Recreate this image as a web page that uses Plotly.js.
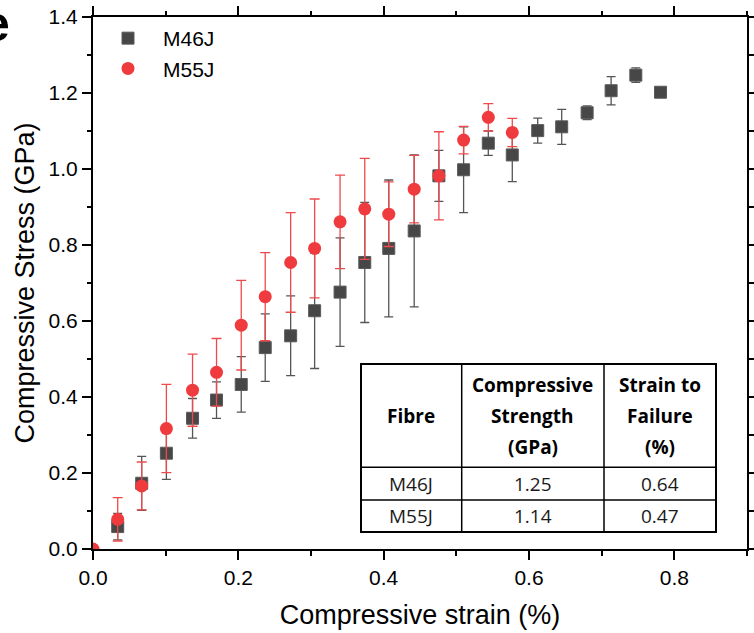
<!DOCTYPE html>
<html>
<head>
<meta charset="utf-8">
<script src="https://cdn.plot.ly/plotly-3.0.1.min.js"></script>
<style>html,body{margin:0;padding:0;background:#fff;}#chart{width:754px;height:633px;}</style>
</head>
<body>
<div id="chart"></div>
<script>
// ---- data ----
const m46jStrain = [0.034, 0.067, 0.101, 0.137, 0.170, 0.204, 0.237, 0.272, 0.305, 0.340, 0.374, 0.407, 0.442, 0.476, 0.510, 0.544, 0.577, 0.612, 0.645, 0.680, 0.713, 0.747, 0.781];
const m46jStress = [0.059, 0.173, 0.252, 0.344, 0.392, 0.433, 0.530, 0.561, 0.627, 0.676, 0.754, 0.791, 0.837, 0.982, 0.998, 1.068, 1.037, 1.101, 1.111, 1.148, 1.206, 1.247, 1.202];
const m46jErr    = [0.035, 0.071, 0.069, 0.052, 0.048, 0.073, 0.089, 0.105, 0.152, 0.143, 0.158, 0.180, 0.200, 0.067, 0.113, 0.032, 0.070, 0.033, 0.046, 0.018, 0.037, 0.019, 0];

const m55jStrain = [0, 0.034, 0.067, 0.101, 0.137, 0.170, 0.204, 0.237, 0.272, 0.305, 0.340, 0.374, 0.407, 0.442, 0.476, 0.510, 0.544, 0.577];
const m55jStress = [0, 0.078, 0.166, 0.317, 0.418, 0.465, 0.589, 0.664, 0.754, 0.791, 0.861, 0.895, 0.881, 0.947, 0.982, 1.076, 1.136, 1.096];
const m55jErr    = [0, 0.057, 0.063, 0.116, 0.095, 0.089, 0.118, 0.116, 0.131, 0.130, 0.123, 0.133, 0.085, 0.089, 0.116, 0.036, 0.036, 0.037];

const tableHeader   = [["Fibre"], ["Compressive", "Strength", "(GPa)"], ["Strain to", "Failure", "(%)"]];
const tableFibres   = ["M46J", "M55J"];
const tableStrength = ["1.25", "1.14"];
const tableStrain   = ["0.64", "0.47"];

// ---- layout helpers (pixel -> paper) ----
const M = {l: 93, r: 7, t: 17, b: 84};
const W = 754, H = 633;
const PW = W - M.l - M.r, PH = H - M.t - M.b;
const px = p => (p - M.l) / PW;
const py = p => 1 - (p - M.t) / PH;

const AX_FONT = 'Liberation Sans, Arial, sans-serif';
const TB_FONT = 'Open Sans, sans-serif';

const traces = [
  {
    x: m46jStrain, y: m46jStress, name: 'M46J', type: 'scatter', mode: 'markers',
    marker: {symbol: 'square', size: 12, color: '#474747', line: {color: '#5a5a5a', width: 1}},
    error_y: {type: 'data', array: m46jErr, visible: true, color: '#555555', thickness: 1.3, width: 4.5}
  },
  {
    x: m55jStrain, y: m55jStress, name: 'M55J', type: 'scatter', mode: 'markers',
    marker: {symbol: 'circle', size: 13, color: '#ef3a3e'},
    error_y: {type: 'data', array: m55jErr, visible: true, color: '#ee4a4c', thickness: 1.3, width: 5}
  }
];

// table geometry (pixels)
const tL = 361, tR = 716, tT = 364, tB = 532;
const colX = [tL, 461.7, 604, tR];
const rowY = [tT, 467.3, 500, tB];

const shapes = [];
shapes.push({type: 'rect', xref: 'paper', yref: 'paper', x0: px(tL), x1: px(tR), y0: py(tT), y1: py(tB),
  line: {color: '#000', width: 2}, fillcolor: 'rgba(255,255,255,1)', layer: 'above'});
for (let i = 1; i < colX.length - 1; i++) {
  shapes.push({type: 'line', xref: 'paper', yref: 'paper', x0: px(colX[i]), x1: px(colX[i]), y0: py(tT), y1: py(tB),
    line: {color: '#000', width: 1.5}});
}
for (let j = 1; j < rowY.length - 1; j++) {
  shapes.push({type: 'line', xref: 'paper', yref: 'paper', x0: px(tL), x1: px(tR), y0: py(rowY[j]), y1: py(rowY[j]),
    line: {color: '#000', width: 1.5}});
}

const annotations = [];
const lineGap = 31;
tableHeader.forEach((lines, c) => {
  const cx = (colX[c] + colX[c + 1]) / 2;
  const cy = (rowY[0] + rowY[1]) / 2;
  lines.forEach((t, k) => {
    const yy = cy + (k - (lines.length - 1) / 2) * lineGap;
    annotations.push({xref: 'paper', yref: 'paper', x: px(cx), y: py(yy), xanchor: 'center', yanchor: 'middle',
      text: '<b>' + t + '</b>', showarrow: false, font: {family: TB_FONT, size: 19, color: '#000'}});
  });
});
const bodyCols = [tableFibres, tableStrength, tableStrain];
bodyCols.forEach((col, c) => {
  const cx = (colX[c] + colX[c + 1]) / 2;
  col.forEach((t, r) => {
    const cy = (rowY[r + 1] + rowY[r + 2]) / 2;
    annotations.push({xref: 'paper', yref: 'paper', x: px(cx), y: py(cy), xanchor: 'center', yanchor: 'middle',
      text: t, showarrow: false, font: {family: TB_FONT, size: 19, color: '#1a1a1a'}});
  });
});
// panel letter (partly cut at the left page edge, as in the reference)
annotations.push({xref: 'paper', yref: 'paper', x: px(12), y: py(24), xanchor: 'right', yanchor: 'middle',
  text: '<b>e</b>', showarrow: false, font: {family: AX_FONT, size: 50, color: '#000'}});

const axisCommon = {
  showgrid: false, zeroline: false, showline: true, linecolor: '#000', linewidth: 2,
  mirror: 'allticks', ticks: 'outside', ticklen: 9, tickwidth: 2, tickcolor: '#000',
  tickfont: {family: AX_FONT, size: 21, color: '#000'}, tickformat: '.1f',
  minor: {ticks: 'outside', ticklen: 4.5, tickwidth: 2, tickcolor: '#000'}
};

const layout = {
  width: W, height: H,
  margin: M,
  paper_bgcolor: '#fff', plot_bgcolor: '#fff',
  showlegend: true,
  legend: {x: px(93), y: py(18), xanchor: 'left', yanchor: 'top', bgcolor: 'rgba(0,0,0,0)',
    font: {family: AX_FONT, size: 21, color: '#000'}, itemwidth: 60, tracegroupgap: 0},
  xaxis: Object.assign({}, axisCommon, {
    range: [0, 0.9], tick0: 0, dtick: 0.2, minor: Object.assign({}, axisCommon.minor, {dtick: 0.1}),
    title: {text: 'Compressive strain (%)', font: {family: AX_FONT, size: 27, color: '#000'}, standoff: 17}
  }),
  yaxis: Object.assign({}, axisCommon, {
    range: [0, 1.4], tick0: 0, dtick: 0.2, minor: Object.assign({}, axisCommon.minor, {dtick: 0.1}),
    title: {text: 'Compressive Stress (GPa)', font: {family: AX_FONT, size: 27, color: '#000'}, standoff: 6}
  }),
  shapes: shapes,
  annotations: annotations
};

Plotly.newPlot('chart', traces, layout, {displayModeBar: false, staticPlot: true});
</script>
</body>
</html>
